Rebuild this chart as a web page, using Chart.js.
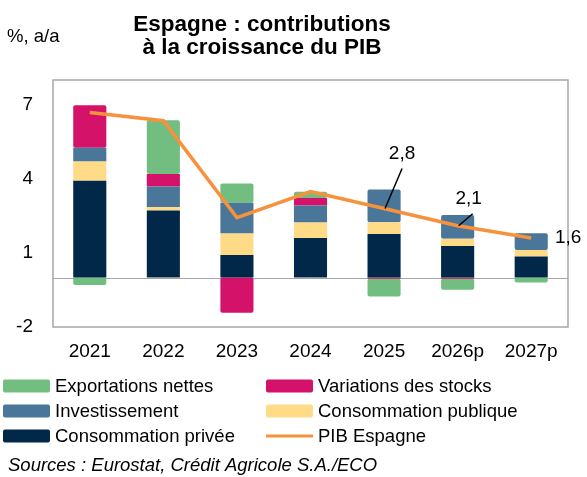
<!DOCTYPE html>
<html>
<head>
<meta charset="utf-8">
<script src="https://cdn.jsdelivr.net/npm/chart.js@4.4.1/dist/chart.umd.min.js"></script>
<style>
  body { margin: 0; background: #fff; }
  canvas { display: block; }
</style>
</head>
<body>
<canvas id="chart" width="587" height="477"></canvas>
<script>
// categories and values
const years = ['2021', '2022', '2023', '2024', '2025', '2026p', '2027p'];
const consoPrivee = [3.92, 2.72, 0.92, 1.6, 1.77, 1.28, 0.85];
const consoPublique = [0.78, 0.14, 0.87, 0.63, 0.47, 0.29, 0.27];
const investissement = [0.56, 0.83, 1.24, 0.69, 1.33, 0.96, 0.68];
const stocks = [1.72, 0.5, -1.42, 0.3, -0.05, -0.05, 0];
const exportations = [-0.3, 2.18, 0.78, 0.26, -0.72, -0.44, -0.2];
const pib = [6.68, 6.35, 2.43, 3.48, 2.8, 2.1, 1.6];
const pibLabelled = [4, 5, 6];
const yTicks = [-2, 1, 4, 7];

const legendOrder = ['Exportations nettes', 'Variations des stocks', 'Investissement',
  'Consommation publique', 'Consommation privée', 'PIB Espagne'];

const FONT = "'Liberation Sans', Arial, sans-serif";
Chart.defaults.font.family = FONT;
Chart.defaults.color = '#000';

function bar(label, data, color) {
  return {
    type: 'bar', label: label, data: data, backgroundColor: color,
    borderRadius: 2, borderSkipped: false, borderWidth: 0,
    barPercentage: 0.45, categoryPercentage: 1, order: 1
  };
}

const extras = {
  id: 'extras',
  beforeDatasetsDraw(chart) {
    const ctx = chart.ctx, a = chart.chartArea;
    const y0 = chart.scales.y.getPixelForValue(0);
    ctx.save();
    ctx.strokeStyle = '#a6a6a6';
    ctx.lineWidth = 1;
    ctx.beginPath();
    ctx.moveTo(a.left, Math.round(y0) + 0.5);
    ctx.lineTo(a.right, Math.round(y0) + 0.5);
    ctx.stroke();
    ctx.restore();
  },
  afterDraw(chart) {
    const ctx = chart.ctx, a = chart.chartArea;
    ctx.save();
    // frame
    ctx.strokeStyle = '#a6a6a6';
    ctx.lineWidth = 1.5;
    ctx.strokeRect(a.left, a.top, a.right - a.left, a.bottom - a.top);

    // title and unit
    ctx.fillStyle = '#000';
    ctx.textAlign = 'center';
    ctx.textBaseline = 'alphabetic';
    ctx.font = 'bold 22.5px ' + FONT;
    ctx.fillText('Espagne : contributions', 262, 31);
    ctx.fillText('à la croissance du PIB', 262, 54);
    ctx.textAlign = 'left';
    ctx.font = '18.5px ' + FONT;
    ctx.fillText('%, a/a', 7, 42);

    // PIB value labels
    const meta = chart.getDatasetMeta(chart.data.datasets.findIndex(d => d.label === 'PIB Espagne'));
    const offsets = { 4: [18, -55, 18, -40], 5: [11, -27, 15, -12], 6: [37, 0, null, null] };
    ctx.textAlign = 'center';
    ctx.textBaseline = 'middle';
    ctx.font = '19px ' + FONT;
    pibLabelled.forEach(i => {
      const p = meta.data[i];
      const o = offsets[i];
      ctx.fillText(String(pib[i]).replace('.', ','), p.x + o[0], p.y + o[1]);
      if (o[2] !== null) {
        ctx.strokeStyle = '#000';
        ctx.lineWidth = 1.5;
        ctx.beginPath();
        ctx.moveTo(p.x + o[2], p.y + o[3]);
        ctx.lineTo(p.x + 1, p.y);
        ctx.stroke();
      }
    });

    // legend, two columns
    ctx.textAlign = 'left';
    ctx.font = '18.5px ' + FONT;
    legendOrder.forEach((label, k) => {
      const ds = chart.data.datasets.find(d => d.label === label);
      const col = k % 2, row = Math.floor(k / 2);
      const x = col === 0 ? 3 : 266;
      const y = 386 + row * 25;
      if (ds.type === 'line') {
        ctx.strokeStyle = ds.borderColor;
        ctx.lineWidth = 3;
        ctx.beginPath();
        ctx.moveTo(x, y);
        ctx.lineTo(x + 47, y);
        ctx.stroke();
      } else {
        ctx.fillStyle = ds.backgroundColor;
        ctx.beginPath();
        ctx.roundRect(x, y - 6.5, 47, 13, 2);
        ctx.fill();
      }
      ctx.fillStyle = '#000';
      ctx.fillText(label, x + 52, y + 1);
    });

    // source
    ctx.font = 'italic 18.5px ' + FONT;
    ctx.fillText('Sources : Eurostat, Crédit Agricole S.A./ECO', 8, 466);
    ctx.restore();
  }
};

new Chart(document.getElementById('chart'), {
  data: {
    labels: years,
    datasets: [
      {
        type: 'line', label: 'PIB Espagne', data: pib,
        borderColor: '#f7923c', borderWidth: 3.5, pointRadius: 0,
        tension: 0, order: 0
      },
      bar('Consommation privée', consoPrivee, '#022849'),
      bar('Consommation publique', consoPublique, '#ffda87'),
      bar('Investissement', investissement, '#4a7699'),
      bar('Variations des stocks', stocks, '#d4126a'),
      bar('Exportations nettes', exportations, '#72be80')
    ]
  },
  options: {
    responsive: false,
    animation: false,
    layout: { padding: { left: 0, right: 19, top: 80, bottom: 110 } },
    plugins: {
      legend: { display: false },
      title: { display: false },
      tooltip: { enabled: false }
    },
    scales: {
      x: {
        stacked: true,
        grid: { display: false, drawTicks: false },
        border: { display: false },
        ticks: { font: { size: 19 }, padding: 13, maxRotation: 0, autoSkip: false },
        afterFit: axis => { axis.height = 40; }
      },
      y: {
        stacked: true,
        min: -2, max: 8,
        grid: { display: false, drawTicks: false },
        border: { display: false },
        ticks: { font: { size: 19 }, padding: 20 },
        afterBuildTicks: axis => { axis.ticks = yTicks.map(v => ({ value: v })); },
        afterFit: axis => { axis.width = 53; }
      }
    }
  },
  plugins: [extras]
});
</script>
</body>
</html>
